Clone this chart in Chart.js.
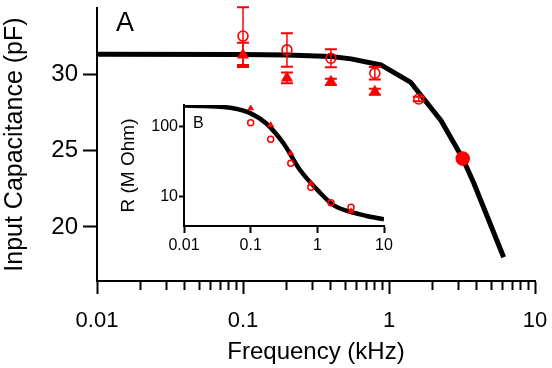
<!DOCTYPE html>
<html><head><meta charset="utf-8">
<script src="https://cdn.jsdelivr.net/npm/chart.js@4"></script>
<style>
html,body{margin:0;padding:0;background:#fff;}
#wrap{position:relative;width:552px;height:368px;overflow:hidden;}
#main{position:absolute;left:0;top:0;}
#inset{position:absolute;left:100px;top:90px;}
</style></head><body>
<div id="wrap"><canvas id="main" width="552" height="368"></canvas><canvas id="inset" width="300" height="175"></canvas></div>
<script>
const FONT = "'Liberation Sans', Arial, Helvetica, sans-serif";
const RED = '#ff0000';

// ---- Panel A data ----
const decadeTicks = [0.01, 0.1, 1, 10];
const decadeLabels = ['0.01', '0.1', '1', '10'];
const capTicks = [20, 25, 30];
const fitFreqA = [0.01, 0.1, 0.2, 0.4, 0.55, 0.88, 1.41, 2.27, 3.2, 3.8, 6.1];
const fitCapA  = [31.35, 31.34, 31.3, 31.2, 31.05, 30.65, 29.5, 27.0, 24.5, 22.9, 18.0];
const circFreqA = [0.1, 0.2, 0.4, 0.8, 1.6, 3.2];
const circCapA  = [32.55, 31.64, 31.09, 30.11, 28.41, 24.49];
const circErrA  = [1.9, 1.1, 0.59, 0.41, 0.15, 0.2];
const triFreqA = [0.1, 0.2, 0.4, 0.8];
const triCapA  = [31.31, 29.8, 29.54, 28.89];
const triErrA  = [0.8, 0.36, 0.2, 0.2];

// ---- Panel B data ----
const fitFreqB = [0.01, 0.02, 0.03, 0.055, 0.1, 0.17, 0.31, 0.55, 1, 1.73, 3.1, 5.5, 10];
const fitResB  = [200, 198, 194, 183, 155, 112, 58, 24, 12.5, 7.6, 6.1, 5.3, 4.75];
const triFreqB = [0.1, 0.2, 0.4, 0.8, 3.2];
const triResB  = [183, 106, 41.6, 15.6, 6.2];
const circFreqB = [0.1, 0.2, 0.4, 0.8, 1.6, 3.2];
const circResB  = [114, 66, 30, 13.6, 8.2, 7.05];
const resTicks = [10, 100];
const resLabels = ['10', '100'];

const minorFreq = [];
[0.01, 0.1, 1].forEach(d => { for (let k = 1; k <= 9; k++) minorFreq.push(+(d * k).toPrecision(3)); });
minorFreq.push(10);

const isDecade = v => Math.abs(Math.log10(v) - Math.round(Math.log10(v))) < 1e-6;
const pts = (xs, ys) => xs.map((x, i) => ({x, y: ys[i]}));
const decadeLabel = v => { const i = decadeTicks.findIndex(d => Math.abs(d - v) / d < 1e-6); return i >= 0 ? decadeLabels[i] : ''; };
const noPad = s => { s.paddingTop = 0; s.paddingBottom = 0; s.paddingLeft = 0; s.paddingRight = 0; };

const errorBars = {
  id: 'errorBars',
  afterDatasetsDraw(chart) {
    const {ctx} = chart; const x = chart.scales.x, y = chart.scales.y;
    ctx.save();
    ctx.strokeStyle = RED;
    chart.data.datasets.forEach(ds => {
      if (!ds.errors) return;
      ds.data.forEach((p, i) => {
        const e = ds.errors[i]; if (!e) return;
        const px = x.getPixelForValue(p.x);
        const yt = y.getPixelForValue(p.y + e), yb = y.getPixelForValue(p.y - e);
        ctx.lineWidth = 1.5;
        ctx.beginPath(); ctx.moveTo(px, yt); ctx.lineTo(px, yb); ctx.stroke();
        ctx.lineWidth = 2;
        ctx.beginPath();
        ctx.moveTo(px - 6, yt); ctx.lineTo(px + 6, yt);
        ctx.moveTo(px - 6, yb); ctx.lineTo(px + 6, yb);
        ctx.stroke();
      });
    });
    ctx.restore();
  }
};

const panelLabel = (id, text, size, px, py) => ({
  id,
  afterDraw(chart) {
    const ctx = chart.ctx; ctx.save();
    ctx.fillStyle = '#000'; ctx.font = size + 'px ' + FONT; ctx.textBaseline = 'alphabetic'; ctx.textAlign = 'left';
    ctx.fillText(text, px, py); ctx.restore();
  }
});

new Chart(document.getElementById('main'), {
  type: 'scatter',
  data: { datasets: [
    { label: 'fit', data: pts(fitFreqA, fitCapA), showLine: true, borderColor: '#000', borderWidth: 5, pointRadius: 0, tension: 0, order: 3, borderJoinStyle: 'round' },
    { label: 'circles', data: pts(circFreqA, circCapA), errors: circErrA, pointStyle: 'circle',
      pointRadius: c => c.dataIndex === 5 ? 6.5 : 5, borderColor: RED, borderWidth: 1.6,
      backgroundColor: c => c.dataIndex === 5 ? RED : 'rgba(0,0,0,0)', order: 1, clip: false },
    { label: 'triangles', data: pts(triFreqA, triCapA), errors: triErrA, pointStyle: 'triangle',
      pointRadius: 7, borderColor: RED, borderWidth: 0, backgroundColor: RED, order: 2, clip: false }
  ]},
  options: {
    responsive: false, animation: false, devicePixelRatio: 1,
    layout: { padding: { left: 0, right: 17, top: 7, bottom: 0 } },
    plugins: { legend: { display: false }, tooltip: { enabled: false } },
    scales: {
      x: {
        type: 'logarithmic', position: 'bottom', min: 0.01, max: 10,
        afterBuildTicks: s => { s.ticks = minorFreq.map(v => ({value: v})); },
        afterFit: s => { s.height = 87; noPad(s); },
        border: { display: true, color: '#000', width: 2 },
        grid: { drawOnChartArea: false, drawTicks: true, tickLength: 13, tickWidth: 2, tickColor: '#000',
                tickBorderDash: c => (c.tick && isDecade(c.tick.value)) ? [] : [8, 60] },
        ticks: { autoSkip: false, maxRotation: 0, minRotation: 0, padding: 14, color: '#000',
                 font: { family: FONT, size: 22 }, callback: v => decadeLabel(v) },
        title: { display: true, text: 'Frequency (kHz)', color: '#000', font: { family: FONT, size: 24, lineHeight: 1 }, padding: { top: 0, bottom: 4 } }
      },
      y: {
        type: 'linear', position: 'left', min: 16.44, max: 34.39,
        afterBuildTicks: s => { s.ticks = capTicks.map(v => ({value: v})); },
        afterFit: s => { s.width = 97; noPad(s); },
        border: { display: true, color: '#000', width: 2 },
        grid: { drawOnChartArea: false, drawTicks: true, tickLength: 14, tickWidth: 2, tickColor: '#000' },
        ticks: { padding: 5, color: '#000', font: { family: FONT, size: 24 }, callback: v => String(v) },
        title: { display: true, text: 'Input Capacitance (pF)', color: '#000', font: { family: FONT, size: 25, lineHeight: 1 }, padding: { top: 3, bottom: 0 } }
      }
    }
  },
  plugins: [errorBars, panelLabel('labelA', 'A', 27, 116, 31)]
});

new Chart(document.getElementById('inset'), {
  type: 'scatter',
  data: { datasets: [
    { label: 'fitB', data: pts(fitFreqB, fitResB), showLine: true, borderColor: '#000', borderWidth: 4.5, pointRadius: 0, cubicInterpolationMode: 'monotone', order: 3 },
    { label: 'trianglesB', data: pts(triFreqB, triResB), pointStyle: 'triangle', pointRadius: 4, borderWidth: 0, backgroundColor: RED, borderColor: RED, order: 2 },
    { label: 'circlesB', data: pts(circFreqB, circResB), pointStyle: 'circle', pointRadius: 3, borderWidth: 1.5, borderColor: RED, backgroundColor: 'rgba(0,0,0,0)', order: 1 }
  ]},
  options: {
    responsive: false, animation: false, devicePixelRatio: 1,
    layout: { padding: { left: 0, right: 16, top: 15, bottom: 0 } },
    plugins: { legend: { display: false }, tooltip: { enabled: false } },
    scales: {
      x: {
        type: 'logarithmic', position: 'bottom', min: 0.01, max: 10,
        afterBuildTicks: s => { s.ticks = decadeTicks.map(v => ({value: v})); },
        afterFit: s => { s.height = 39; noPad(s); },
        border: { display: true, color: '#000', width: 2 },
        grid: { drawOnChartArea: false, drawTicks: true, tickLength: 7, tickWidth: 2, tickColor: '#000' },
        ticks: { autoSkip: false, maxRotation: 0, minRotation: 0, padding: 3, color: '#000',
                 font: { family: FONT, size: 16 }, callback: v => decadeLabel(v) }
      },
      y: {
        type: 'logarithmic', position: 'left', min: 3.81, max: 204,
        afterBuildTicks: s => { s.ticks = resTicks.map(v => ({value: v})); },
        afterFit: s => { s.width = 84; noPad(s); },
        border: { display: true, color: '#000', width: 2 },
        grid: { drawOnChartArea: false, drawTicks: true, tickLength: 5, tickWidth: 2, tickColor: '#000' },
        ticks: { padding: 1, color: '#000', font: { family: FONT, size: 16 },
                 callback: v => { const i = resTicks.findIndex(t => Math.abs(t - v) / t < 1e-6); return i >= 0 ? resLabels[i] : ''; } },
        title: { display: true, text: 'R (M Ohm)', color: '#000', font: { family: FONT, size: 19, lineHeight: 1 }, padding: { top: 19, bottom: 0 } }
      }
    }
  },
  plugins: [panelLabel('labelB', 'B', 16, 93, 38)]
});
</script>
</body></html>
